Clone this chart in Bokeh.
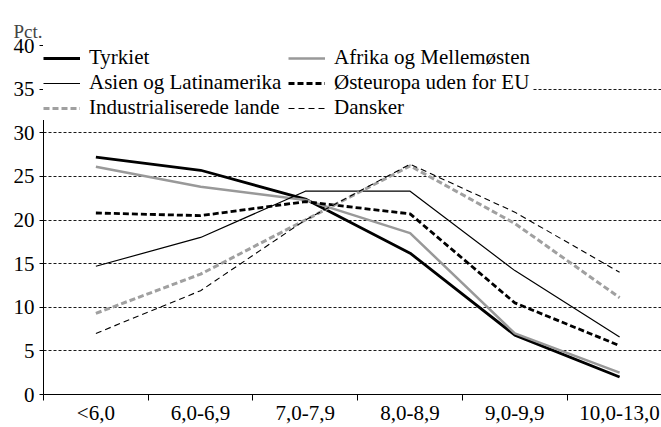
from bokeh.plotting import figure
from bokeh.models import FixedTicker, Legend, LegendItem, Range1d
from bokeh.embed import file_html
from bokeh.resources import INLINE

categories = ["<6,0", "6,0-6,9", "7,0-7,9", "8,0-8,9", "9,0-9,9", "10,0-13,0"]
tyrkiet = [27.2, 25.7, 22.4, 16.2, 6.8, 2.0]
afrika = [26.1, 23.8, 22.3, 18.5, 7.0, 2.5]
asien = [14.7, 18.0, 23.3, 23.3, 14.2, 6.6]
osteuropa = [20.8, 20.5, 22.1, 20.7, 10.5, 5.6]
industri = [9.3, 13.8, 20.0, 26.2, 19.6, 11.1]
dansker = [7.0, 11.9, 20.0, 26.4, 20.9, 14.0]
y_ticks = [0, 5, 10, 15, 20, 25, 30, 35, 40]

FONT = "Liberation Serif"
xs = [i + 0.5 for i in range(len(categories))]

p = figure(width=661, height=427, output_backend="svg", toolbar_location=None,
           x_range=Range1d(0, 5.90), y_range=Range1d(0, 40),
           min_border_left=43, min_border_right=0, min_border_top=45, min_border_bottom=0)
p.outline_line_color = None
p.background_fill_color = "white"
p.border_fill_color = "white"

p.title.text = "Pct."
p.title.text_font = FONT
p.title.text_font_size = "19px"
p.title.text_font_style = "normal"
p.title.align = "left"
p.title.offset = -30
p.title.standoff = 7

# x axis
p.xaxis.ticker = FixedTicker(ticks=xs, minor_ticks=list(range(len(categories) + 1)))
p.xaxis.major_label_overrides = {x: c for x, c in zip(xs, categories)}
p.xaxis.major_tick_out = 0
p.xaxis.major_tick_in = 0
p.xaxis.minor_tick_out = 6
p.xaxis.minor_tick_in = 0
p.xaxis.minor_tick_line_color = "black"
p.xaxis.major_label_standoff = 0
p.xaxis.major_label_text_font = FONT
p.xaxis.major_label_text_font_size = "21px"
p.xaxis.major_label_text_font_style = "normal"
p.xaxis.major_label_text_color = "black"
p.xaxis.axis_line_color = "black"
p.xgrid.grid_line_color = None

# y axis
p.yaxis.ticker = FixedTicker(ticks=y_ticks)
p.yaxis.major_tick_out = 4
p.yaxis.major_tick_in = 0
p.yaxis.minor_tick_line_color = None
p.yaxis.major_label_standoff = 5
p.yaxis.major_label_text_font = FONT
p.yaxis.major_label_text_font_size = "21px"
p.yaxis.major_label_text_font_style = "normal"
p.yaxis.major_label_text_color = "black"
p.yaxis.axis_line_color = "black"
p.yaxis.major_tick_line_color = "black"
p.ygrid.grid_line_color = "black"
p.ygrid.grid_line_width = 1
p.ygrid.grid_line_dash = "3 2"
p.ygrid.grid_line_alpha = 0.9

r_tyr = p.line(xs, tyrkiet, line_color="black", line_width=2.8)
r_afr = p.line(xs, afrika, line_color="#999999", line_width=2.5)
r_asi = p.line(xs, asien, line_color="black", line_width=1.2)
r_ost = p.line(xs, osteuropa, line_color="black", line_width=2.8, line_dash="6 3")
r_ind = p.line(xs, industri, line_color="#a0a0a0", line_width=3, line_dash="6 3")
r_dan = p.line(xs, dansker, line_color="black", line_width=1.1, line_dash="6 4")

legend = Legend(items=[
    LegendItem(label="Tyrkiet", renderers=[r_tyr]),
    LegendItem(label="Asien og Latinamerika", renderers=[r_asi]),
    LegendItem(label="Industrialiserede lande", renderers=[r_ind]),
    LegendItem(label="Afrika og Mellemøsten", renderers=[r_afr]),
    LegendItem(label="Østeuropa uden for EU", renderers=[r_ost]),
    LegendItem(label="Dansker", renderers=[r_dan]),
], ncols=2, location="top_left")
legend.margin = 0
legend.padding = 4
legend.spacing = 0
legend.label_standoff = 9
legend.label_width = 199
legend.glyph_width = 37
legend.glyph_height = 20
legend.label_height = 20
legend.label_text_font = FONT
legend.label_text_font_style = "normal"
legend.label_text_font_size = "21px"
legend.label_text_color = "black"
legend.border_line_color = None
legend.background_fill_color = "white"
legend.background_fill_alpha = 1
p.add_layout(legend, "center")

open("out.html", "w").write(file_html(p, INLINE))
